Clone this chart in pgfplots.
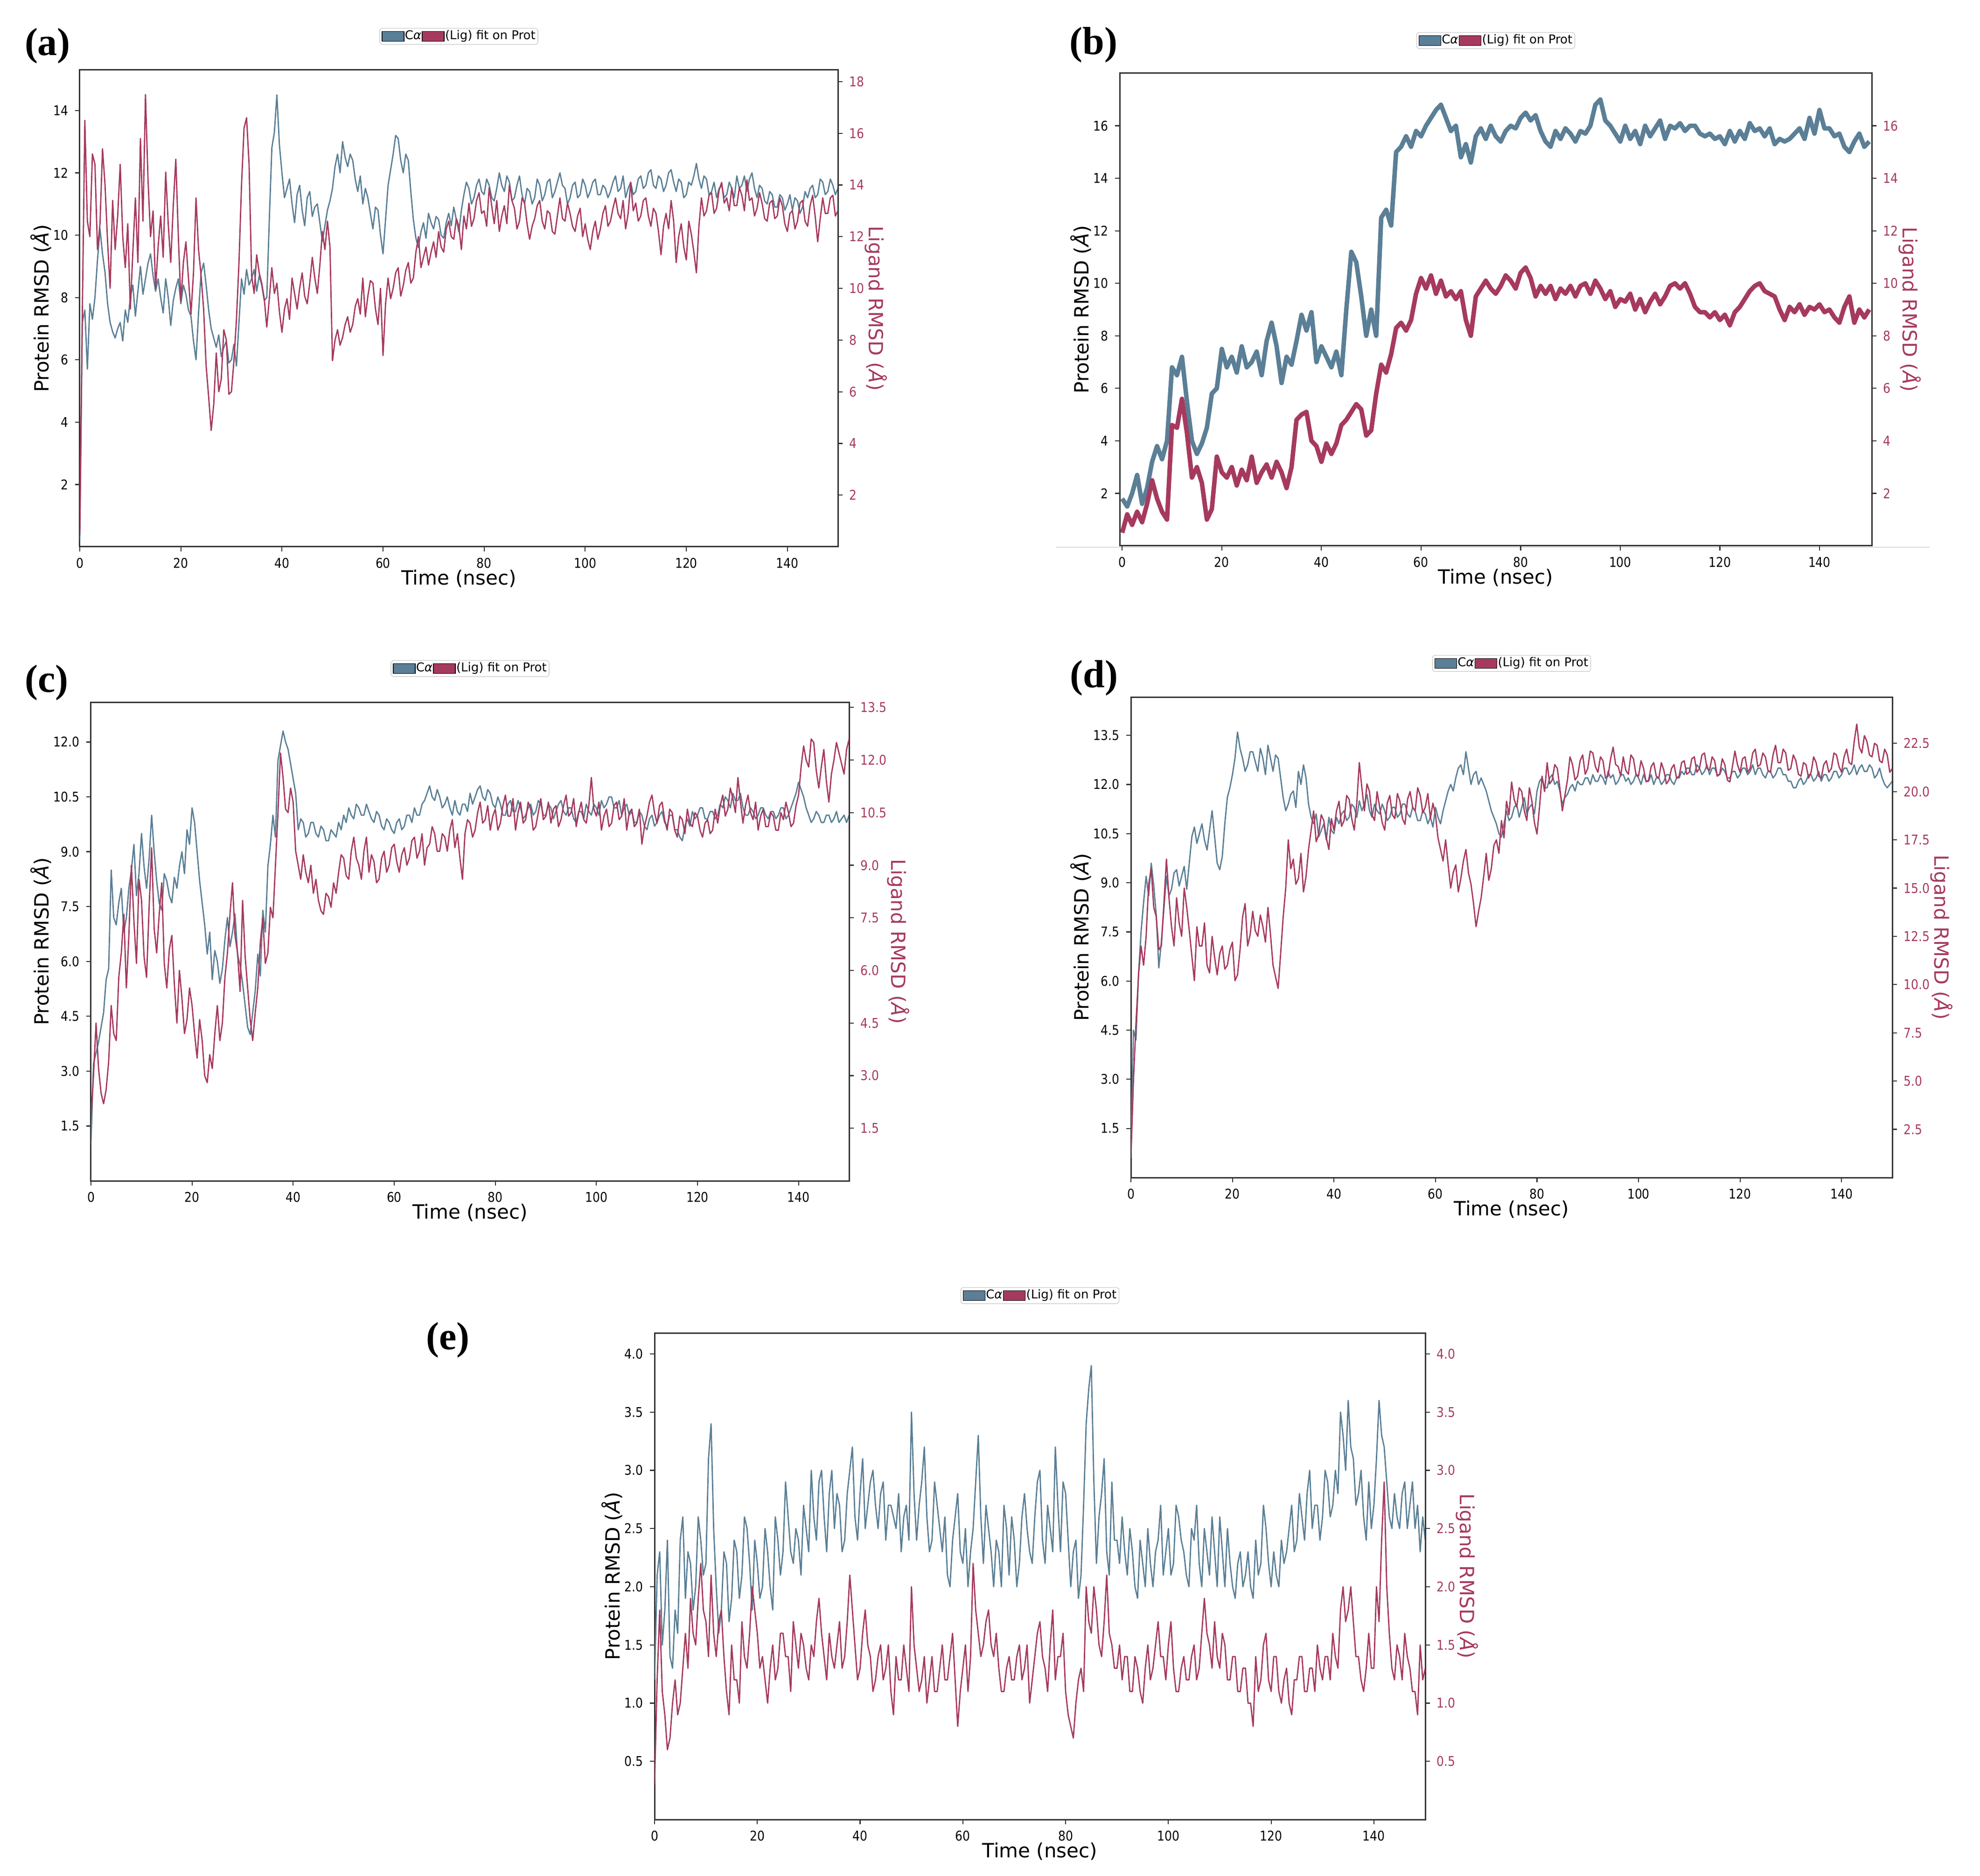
\documentclass[border=0pt]{standalone}
\usepackage{pgfplots}
\usepackage{pgfplotstable}
\pgfplotsset{compat=1.18}
\usepackage{fontspec}
\setmainfont{DejaVu Sans}
\newfontfamily\tickfont{DejaVu Sans}[FakeStretch=0.87]
\newfontfamily\tnr{Liberation Serif}
\definecolor{protc}{HTML}{5A7F96}
\definecolor{ligc}{HTML}{A63A5E}
\definecolor{axc}{HTML}{333333}

% ---------------- data: panels a, c, d, e every 0.5 ns; panel b every 1 ns ----------------
\pgfplotstableread[row sep=\\]{v\\
0.2\\ 7.2\\ 7.6\\ 5.7\\ 7.8\\ 7.3\\ 8.0\\ 9.2\\ 10.2\\ 9.4\\
8.8\\ 7.8\\ 7.2\\ 6.9\\ 6.7\\ 7.0\\ 7.2\\ 6.6\\ 7.6\\ 7.2\\
8.0\\ 8.4\\ 7.4\\ 8.2\\ 9.0\\ 8.1\\ 8.6\\ 9.1\\ 9.4\\ 8.7\\
8.2\\ 8.6\\ 8.0\\ 7.5\\ 8.6\\ 8.0\\ 7.1\\ 7.9\\ 8.3\\ 8.6\\
7.8\\ 8.4\\ 8.1\\ 7.6\\ 7.4\\ 6.6\\ 6.0\\ 7.5\\ 8.8\\ 9.1\\
8.4\\ 7.6\\ 7.0\\ 6.7\\ 6.4\\ 6.8\\ 6.1\\ 6.4\\ 6.6\\ 5.9\\
6.0\\ 6.5\\ 5.8\\ 7.2\\ 8.6\\ 8.1\\ 8.9\\ 8.4\\ 8.6\\ 8.9\\
8.2\\ 8.7\\ 8.4\\ 7.9\\ 8.0\\ 10.5\\ 12.8\\ 13.3\\ 14.5\\ 12.9\\
12.0\\ 11.2\\ 11.5\\ 11.8\\ 11.0\\ 10.4\\ 11.3\\ 11.6\\ 10.8\\ 10.3\\
11.2\\ 11.4\\ 10.6\\ 10.9\\ 11.0\\ 10.4\\ 9.8\\ 10.3\\ 10.8\\ 11.1\\
11.5\\ 12.2\\ 12.6\\ 12.0\\ 13.0\\ 12.5\\ 12.2\\ 12.6\\ 12.4\\ 11.8\\
11.4\\ 11.9\\ 11.0\\ 11.5\\ 11.2\\ 10.7\\ 10.2\\ 10.9\\ 10.8\\ 10.0\\
9.4\\ 10.5\\ 11.6\\ 12.1\\ 12.6\\ 13.2\\ 13.1\\ 12.4\\ 12.0\\ 12.6\\
12.4\\ 11.4\\ 10.5\\ 9.9\\ 9.6\\ 10.1\\ 10.4\\ 9.9\\ 10.7\\ 10.4\\
10.2\\ 10.6\\ 10.5\\ 10.0\\ 9.9\\ 10.4\\ 10.7\\ 10.3\\ 10.9\\ 10.5\\
10.1\\ 10.8\\ 11.3\\ 11.7\\ 11.5\\ 11.0\\ 11.2\\ 11.6\\ 11.8\\ 11.4\\
11.3\\ 11.8\\ 11.6\\ 11.2\\ 11.1\\ 11.5\\ 12.0\\ 11.6\\ 11.4\\ 11.9\\
11.7\\ 11.1\\ 11.2\\ 11.6\\ 11.9\\ 11.3\\ 11.0\\ 11.5\\ 11.4\\ 11.0\\
11.2\\ 11.8\\ 11.6\\ 11.1\\ 11.3\\ 11.7\\ 11.8\\ 11.2\\ 11.4\\ 11.7\\
12.0\\ 11.6\\ 11.5\\ 11.0\\ 11.2\\ 11.6\\ 11.7\\ 11.2\\ 11.3\\ 11.8\\
11.6\\ 11.2\\ 11.4\\ 11.7\\ 11.8\\ 11.3\\ 11.3\\ 11.6\\ 11.5\\ 11.2\\
11.4\\ 11.7\\ 11.9\\ 11.4\\ 11.5\\ 11.9\\ 11.2\\ 11.5\\ 11.7\\ 11.3\\
11.4\\ 11.8\\ 11.9\\ 11.5\\ 11.6\\ 12.0\\ 12.1\\ 11.6\\ 11.5\\ 11.9\\
11.8\\ 11.4\\ 11.6\\ 12.0\\ 12.1\\ 11.7\\ 11.4\\ 11.8\\ 11.7\\ 11.2\\
11.3\\ 11.7\\ 11.6\\ 11.9\\ 12.3\\ 11.8\\ 11.5\\ 11.9\\ 11.8\\ 11.3\\
11.4\\ 11.7\\ 11.2\\ 11.5\\ 11.6\\ 11.2\\ 11.3\\ 11.7\\ 11.5\\ 11.2\\
11.9\\ 11.5\\ 11.6\\ 11.9\\ 11.4\\ 11.8\\ 12.0\\ 11.5\\ 11.2\\ 11.6\\
11.5\\ 11.1\\ 11.0\\ 11.4\\ 11.3\\ 10.9\\ 10.9\\ 11.3\\ 11.2\\ 10.8\\
11.0\\ 11.3\\ 10.8\\ 11.2\\ 11.1\\ 10.7\\ 10.9\\ 11.4\\ 11.2\\ 11.5\\
11.6\\ 11.2\\ 11.3\\ 11.8\\ 11.7\\ 11.3\\ 11.4\\ 11.8\\ 11.6\\ 11.3\\
11.5\\}\aP
\pgfplotstableread[row sep=\\]{v\\
0.5\\ 9.0\\ 16.5\\ 12.6\\ 12.0\\ 15.2\\ 14.8\\ 11.5\\ 12.5\\ 15.4\\
14.0\\ 11.8\\ 10.0\\ 13.4\\ 11.5\\ 12.8\\ 14.8\\ 12.0\\ 10.8\\ 12.5\\
9.2\\ 11.4\\ 13.5\\ 11.0\\ 15.8\\ 12.6\\ 17.5\\ 14.2\\ 12.0\\ 13.0\\
10.0\\ 11.6\\ 12.8\\ 11.2\\ 14.5\\ 12.5\\ 11.0\\ 13.2\\ 15.0\\ 12.0\\
9.5\\ 11.0\\ 11.8\\ 10.4\\ 9.0\\ 10.6\\ 13.5\\ 11.5\\ 10.5\\ 9.2\\
7.0\\ 5.8\\ 4.5\\ 5.5\\ 7.5\\ 6.0\\ 6.5\\ 8.4\\ 8.0\\ 5.9\\
6.0\\ 7.2\\ 8.8\\ 11.0\\ 14.0\\ 16.2\\ 16.6\\ 14.8\\ 10.5\\ 9.8\\
11.3\\ 10.6\\ 10.2\\ 9.6\\ 8.5\\ 9.6\\ 10.8\\ 9.8\\ 10.2\\ 9.1\\
8.3\\ 9.2\\ 9.6\\ 8.8\\ 10.4\\ 9.8\\ 9.2\\ 10.0\\ 10.6\\ 9.7\\
9.4\\ 10.2\\ 11.2\\ 10.4\\ 9.8\\ 10.9\\ 12.2\\ 11.5\\ 12.6\\ 11.6\\
7.2\\ 8.0\\ 8.4\\ 7.8\\ 8.1\\ 8.6\\ 8.9\\ 8.3\\ 8.6\\ 9.3\\
9.6\\ 9.0\\ 10.4\\ 8.9\\ 9.7\\ 10.3\\ 10.2\\ 9.2\\ 8.6\\ 10.0\\
7.4\\ 9.4\\ 10.4\\ 9.6\\ 10.0\\ 10.6\\ 10.8\\ 9.7\\ 10.1\\ 10.7\\
11.0\\ 10.2\\ 10.4\\ 11.4\\ 12.0\\ 10.8\\ 11.2\\ 11.6\\ 10.9\\ 11.4\\
11.8\\ 11.2\\ 12.2\\ 11.6\\ 11.4\\ 12.3\\ 12.6\\ 12.0\\ 11.9\\ 12.7\\
12.4\\ 11.5\\ 12.8\\ 12.3\\ 13.3\\ 12.4\\ 12.7\\ 13.4\\ 13.7\\ 12.9\\
13.0\\ 12.4\\ 13.9\\ 13.2\\ 12.5\\ 13.4\\ 12.2\\ 12.8\\ 13.2\\ 12.5\\
14.0\\ 13.4\\ 13.1\\ 12.3\\ 12.6\\ 13.5\\ 13.3\\ 12.5\\ 11.9\\ 12.4\\
12.7\\ 13.2\\ 13.4\\ 12.6\\ 12.3\\ 13.0\\ 12.9\\ 12.2\\ 12.1\\ 12.8\\
13.5\\ 12.7\\ 12.6\\ 13.3\\ 12.9\\ 12.4\\ 12.2\\ 12.8\\ 13.1\\ 12.0\\
12.5\\ 11.9\\ 11.5\\ 12.2\\ 12.6\\ 11.9\\ 12.3\\ 12.9\\ 13.2\\ 12.4\\
12.6\\ 13.1\\ 13.5\\ 12.9\\ 12.7\\ 13.4\\ 12.3\\ 12.9\\ 14.1\\ 13.0\\
13.3\\ 12.6\\ 12.8\\ 13.4\\ 13.5\\ 12.8\\ 12.4\\ 13.1\\ 12.9\\ 12.2\\
11.3\\ 12.4\\ 12.9\\ 12.3\\ 13.4\\ 12.6\\ 11.0\\ 12.0\\ 12.5\\ 11.6\\
11.1\\ 12.6\\ 12.1\\ 11.4\\ 10.6\\ 12.4\\ 13.5\\ 12.8\\ 13.0\\ 13.6\\
13.7\\ 12.9\\ 13.1\\ 13.8\\ 14.1\\ 13.3\\ 13.5\\ 13.0\\ 13.9\\ 13.2\\
13.2\\ 13.9\\ 13.6\\ 13.0\\ 14.2\\ 13.4\\ 13.5\\ 12.8\\ 13.1\\ 13.7\\
13.3\\ 12.7\\ 12.6\\ 13.3\\ 13.4\\ 12.7\\ 12.8\\ 13.5\\ 13.2\\ 12.5\\
12.2\\ 12.9\\ 13.0\\ 12.3\\ 12.6\\ 13.3\\ 13.4\\ 12.6\\ 12.4\\ 13.2\\
13.6\\ 12.8\\ 11.8\\ 12.7\\ 13.5\\ 12.9\\ 12.9\\ 13.5\\ 13.6\\ 12.8\\
13.0\\}\aL
\pgfplotstableread[row sep=\\]{v\\
1.8\\ 1.5\\ 2.0\\ 2.7\\ 1.6\\ 2.2\\ 3.2\\ 3.8\\ 3.3\\ 4.0\\
6.8\\ 6.5\\ 7.2\\ 5.5\\ 4.0\\ 3.5\\ 3.9\\ 4.5\\ 5.8\\ 6.0\\
7.5\\ 6.8\\ 7.2\\ 6.6\\ 7.6\\ 6.8\\ 7.0\\ 7.4\\ 6.5\\ 7.8\\
8.5\\ 7.6\\ 6.2\\ 7.2\\ 6.9\\ 7.8\\ 8.8\\ 8.2\\ 8.9\\ 7.0\\
7.6\\ 7.2\\ 6.8\\ 7.4\\ 6.5\\ 9.0\\ 11.2\\ 10.8\\ 9.5\\ 8.0\\
9.0\\ 8.0\\ 12.5\\ 12.8\\ 12.2\\ 15.0\\ 15.2\\ 15.6\\ 15.2\\ 15.8\\
15.6\\ 16.0\\ 16.3\\ 16.6\\ 16.8\\ 16.3\\ 15.8\\ 16.0\\ 14.8\\ 15.3\\
14.6\\ 15.6\\ 15.9\\ 15.5\\ 16.0\\ 15.6\\ 15.4\\ 15.8\\ 16.0\\ 15.9\\
16.3\\ 16.5\\ 16.2\\ 16.4\\ 15.8\\ 15.4\\ 15.2\\ 15.8\\ 15.5\\ 15.9\\
15.7\\ 15.4\\ 15.8\\ 15.7\\ 16.0\\ 16.8\\ 17.0\\ 16.2\\ 16.0\\ 15.7\\
15.4\\ 16.0\\ 15.5\\ 15.8\\ 15.3\\ 16.0\\ 15.6\\ 15.9\\ 16.2\\ 15.5\\
16.0\\ 15.9\\ 16.1\\ 15.8\\ 16.0\\ 16.0\\ 15.7\\ 15.6\\ 15.7\\ 15.5\\
15.6\\ 15.3\\ 15.8\\ 15.4\\ 15.8\\ 15.5\\ 16.1\\ 15.8\\ 15.9\\ 15.6\\
15.9\\ 15.3\\ 15.5\\ 15.4\\ 15.5\\ 15.7\\ 15.9\\ 15.5\\ 16.3\\ 15.7\\
16.6\\ 15.9\\ 15.9\\ 15.6\\ 15.7\\ 15.2\\ 15.0\\ 15.4\\ 15.7\\ 15.2\\
15.4\\}\bP
\pgfplotstableread[row sep=\\]{v\\
0.5\\ 1.2\\ 0.8\\ 1.3\\ 0.9\\ 1.6\\ 2.5\\ 1.8\\ 1.3\\ 1.0\\
4.6\\ 4.5\\ 5.6\\ 4.3\\ 2.6\\ 3.0\\ 2.4\\ 1.0\\ 1.4\\ 3.4\\
2.8\\ 2.6\\ 3.0\\ 2.3\\ 2.9\\ 2.5\\ 3.4\\ 2.4\\ 2.8\\ 3.1\\
2.6\\ 3.2\\ 2.8\\ 2.2\\ 3.0\\ 4.8\\ 5.0\\ 5.1\\ 4.0\\ 3.8\\
3.2\\ 3.9\\ 3.5\\ 3.9\\ 4.6\\ 4.8\\ 5.1\\ 5.4\\ 5.2\\ 4.2\\
4.4\\ 5.8\\ 6.9\\ 6.6\\ 7.3\\ 8.3\\ 8.5\\ 8.2\\ 8.6\\ 9.6\\
10.2\\ 9.8\\ 10.3\\ 9.6\\ 10.1\\ 9.5\\ 9.7\\ 9.4\\ 9.7\\ 8.6\\
8.0\\ 9.5\\ 9.8\\ 10.1\\ 9.8\\ 9.6\\ 9.9\\ 10.3\\ 10.1\\ 9.8\\
10.4\\ 10.6\\ 10.2\\ 9.5\\ 9.9\\ 9.6\\ 9.9\\ 9.4\\ 9.8\\ 9.6\\
9.9\\ 9.5\\ 9.9\\ 10.0\\ 9.6\\ 10.1\\ 9.8\\ 9.4\\ 9.7\\ 9.1\\
9.4\\ 9.3\\ 9.6\\ 9.0\\ 9.4\\ 8.9\\ 9.3\\ 9.6\\ 9.2\\ 9.5\\
9.9\\ 10.0\\ 9.8\\ 10.0\\ 9.6\\ 9.1\\ 8.9\\ 8.9\\ 8.7\\ 8.9\\
8.6\\ 8.8\\ 8.4\\ 8.9\\ 9.1\\ 9.4\\ 9.7\\ 9.9\\ 10.0\\ 9.7\\
9.6\\ 9.5\\ 9.0\\ 8.6\\ 9.1\\ 8.9\\ 9.2\\ 8.8\\ 9.1\\ 9.0\\
9.2\\ 8.9\\ 9.0\\ 8.7\\ 8.5\\ 9.1\\ 9.5\\ 8.5\\ 9.0\\ 8.7\\
9.0\\}\bL
\pgfplotstableread[row sep=\\]{v\\
1.0\\ 3.2\\ 3.5\\ 3.8\\ 4.2\\ 4.6\\ 5.5\\ 5.8\\ 8.5\\ 7.2\\
7.0\\ 7.6\\ 8.0\\ 6.8\\ 7.2\\ 8.0\\ 8.5\\ 9.2\\ 7.8\\ 8.4\\
9.5\\ 8.6\\ 8.0\\ 8.8\\ 10.0\\ 9.0\\ 8.2\\ 7.6\\ 7.4\\ 8.4\\
8.2\\ 7.8\\ 7.6\\ 8.3\\ 8.0\\ 8.6\\ 9.0\\ 8.4\\ 9.6\\ 9.2\\
10.2\\ 9.8\\ 9.0\\ 8.2\\ 7.6\\ 7.0\\ 6.2\\ 6.8\\ 5.5\\ 6.3\\
6.0\\ 5.4\\ 5.8\\ 6.6\\ 7.2\\ 6.4\\ 6.8\\ 7.3\\ 6.2\\ 5.9\\
5.4\\ 4.8\\ 4.2\\ 4.0\\ 4.6\\ 5.2\\ 6.2\\ 5.6\\ 7.4\\ 6.8\\
8.6\\ 9.2\\ 10.0\\ 9.4\\ 11.5\\ 11.9\\ 12.3\\ 12.0\\ 11.8\\ 11.4\\
11.0\\ 10.6\\ 9.6\\ 9.9\\ 9.8\\ 9.4\\ 9.5\\ 9.8\\ 9.8\\ 9.5\\
9.4\\ 9.7\\ 9.6\\ 9.3\\ 9.3\\ 9.6\\ 9.5\\ 9.4\\ 9.8\\ 9.6\\
10.0\\ 9.8\\ 10.2\\ 10.0\\ 9.9\\ 10.3\\ 10.2\\ 10.0\\ 10.0\\ 10.3\\
10.1\\ 9.9\\ 9.8\\ 10.1\\ 10.0\\ 9.7\\ 9.6\\ 9.9\\ 9.8\\ 9.6\\
9.5\\ 9.8\\ 9.9\\ 9.6\\ 9.7\\ 10.0\\ 10.0\\ 9.8\\ 10.2\\ 10.0\\
10.0\\ 10.3\\ 10.4\\ 10.6\\ 10.8\\ 10.5\\ 10.4\\ 10.7\\ 10.5\\ 10.2\\
10.3\\ 10.5\\ 10.2\\ 10.0\\ 10.4\\ 10.1\\ 10.0\\ 10.3\\ 10.3\\ 10.1\\
10.6\\ 10.3\\ 10.5\\ 10.7\\ 10.8\\ 10.5\\ 10.4\\ 10.7\\ 10.6\\ 10.3\\
10.2\\ 10.5\\ 10.3\\ 10.0\\ 10.0\\ 10.3\\ 10.4\\ 10.1\\ 10.1\\ 10.4\\
10.2\\ 9.9\\ 10.0\\ 10.2\\ 10.3\\ 10.0\\ 10.1\\ 10.4\\ 10.3\\ 10.0\\
10.0\\ 10.3\\ 10.2\\ 9.9\\ 10.1\\ 10.3\\ 10.4\\ 10.1\\ 10.0\\ 10.2\\
10.2\\ 9.9\\ 9.8\\ 10.1\\ 10.1\\ 9.9\\ 10.3\\ 10.1\\ 10.0\\ 10.3\\
10.2\\ 10.0\\ 10.4\\ 10.2\\ 10.3\\ 10.5\\ 10.5\\ 10.2\\ 10.2\\ 10.4\\
10.0\\ 10.2\\ 10.3\\ 10.0\\ 10.1\\ 9.8\\ 9.8\\ 10.1\\ 10.0\\ 9.7\\
9.6\\ 9.9\\ 10.0\\ 9.7\\ 9.8\\ 10.0\\ 10.1\\ 9.8\\ 9.7\\ 10.0\\
10.0\\ 9.6\\ 9.6\\ 9.4\\ 9.3\\ 9.7\\ 9.9\\ 9.7\\ 10.1\\ 9.9\\
10.0\\ 10.2\\ 10.2\\ 9.9\\ 9.9\\ 10.1\\ 10.1\\ 9.9\\ 10.0\\ 10.3\\
10.2\\ 10.5\\ 10.4\\ 10.2\\ 10.6\\ 10.4\\ 10.4\\ 10.6\\ 10.2\\ 10.0\\
10.0\\ 10.2\\ 10.1\\ 9.9\\ 10.0\\ 10.2\\ 10.2\\ 10.0\\ 9.9\\ 10.1\\
10.1\\ 9.9\\ 10.0\\ 10.2\\ 10.2\\ 9.9\\ 10.0\\ 10.2\\ 10.4\\ 10.6\\
10.9\\ 10.7\\ 10.5\\ 10.2\\ 10.0\\ 9.8\\ 9.9\\ 10.1\\ 10.0\\ 9.8\\
9.8\\ 10.0\\ 10.0\\ 9.8\\ 9.9\\ 10.1\\ 9.8\\ 9.9\\ 10.0\\ 9.8\\
10.0\\}\cP
\pgfplotstableread[row sep=\\]{v\\
1.8\\ 3.0\\ 4.5\\ 3.2\\ 2.5\\ 2.2\\ 2.6\\ 3.4\\ 5.0\\ 4.2\\
4.0\\ 5.8\\ 6.5\\ 7.6\\ 5.5\\ 7.0\\ 9.0\\ 7.4\\ 6.2\\ 8.6\\
8.0\\ 6.4\\ 5.8\\ 7.8\\ 9.5\\ 7.2\\ 6.5\\ 7.6\\ 8.5\\ 6.2\\
5.5\\ 6.6\\ 7.0\\ 5.6\\ 4.5\\ 6.0\\ 5.2\\ 4.2\\ 4.6\\ 5.5\\
5.0\\ 4.2\\ 3.5\\ 4.6\\ 4.0\\ 3.0\\ 2.8\\ 3.6\\ 3.2\\ 4.2\\
5.0\\ 4.0\\ 4.5\\ 5.8\\ 6.5\\ 7.6\\ 8.5\\ 7.0\\ 6.5\\ 5.4\\
8.0\\ 6.4\\ 5.5\\ 4.6\\ 4.0\\ 4.8\\ 5.5\\ 6.8\\ 7.5\\ 6.2\\
6.5\\ 7.8\\ 7.5\\ 9.0\\ 10.5\\ 12.2\\ 11.5\\ 10.6\\ 10.5\\ 11.2\\
10.8\\ 9.4\\ 9.0\\ 8.6\\ 9.3\\ 8.8\\ 8.5\\ 9.0\\ 8.2\\ 8.6\\
8.0\\ 7.7\\ 7.6\\ 8.2\\ 8.1\\ 7.8\\ 8.5\\ 8.2\\ 8.8\\ 9.3\\
9.2\\ 8.7\\ 8.6\\ 9.4\\ 9.8\\ 9.2\\ 9.0\\ 8.6\\ 9.4\\ 9.8\\
8.8\\ 9.3\\ 9.1\\ 8.5\\ 8.6\\ 9.2\\ 9.4\\ 8.8\\ 9.0\\ 9.5\\
9.6\\ 9.1\\ 8.8\\ 9.3\\ 9.5\\ 9.0\\ 9.2\\ 9.7\\ 9.8\\ 9.2\\
9.4\\ 9.9\\ 9.0\\ 9.5\\ 9.6\\ 10.1\\ 9.9\\ 9.4\\ 9.4\\ 9.9\\
9.8\\ 9.4\\ 10.0\\ 10.3\\ 9.5\\ 9.9\\ 9.2\\ 8.6\\ 9.9\\ 10.3\\
10.2\\ 9.8\\ 10.0\\ 10.5\\ 10.8\\ 10.2\\ 10.3\\ 10.7\\ 10.0\\ 10.4\\
10.6\\ 10.0\\ 10.2\\ 10.7\\ 11.0\\ 10.4\\ 10.4\\ 10.9\\ 10.0\\ 10.5\\
10.8\\ 10.2\\ 10.3\\ 10.8\\ 10.6\\ 10.0\\ 10.1\\ 10.5\\ 10.9\\ 10.3\\
10.4\\ 10.8\\ 10.2\\ 10.6\\ 10.7\\ 10.1\\ 10.3\\ 10.7\\ 11.0\\ 10.4\\
10.5\\ 10.9\\ 10.1\\ 10.5\\ 10.8\\ 10.3\\ 10.2\\ 10.7\\ 11.5\\ 10.6\\
10.4\\ 10.8\\ 10.0\\ 10.4\\ 10.6\\ 10.1\\ 10.2\\ 10.7\\ 10.8\\ 10.3\\
10.4\\ 10.9\\ 10.0\\ 10.5\\ 10.6\\ 10.1\\ 10.2\\ 10.6\\ 9.6\\ 10.1\\
10.4\\ 10.8\\ 11.0\\ 10.5\\ 10.2\\ 10.7\\ 10.8\\ 10.3\\ 10.0\\ 10.6\\
10.5\\ 10.0\\ 9.8\\ 10.4\\ 10.3\\ 9.9\\ 10.6\\ 10.2\\ 10.1\\ 10.5\\
10.4\\ 10.0\\ 9.8\\ 10.2\\ 10.3\\ 9.9\\ 10.0\\ 10.6\\ 10.2\\ 10.7\\
11.0\\ 10.4\\ 10.6\\ 11.2\\ 10.9\\ 10.5\\ 11.5\\ 10.8\\ 10.2\\ 10.7\\
11.0\\ 10.5\\ 10.3\\ 10.8\\ 10.0\\ 10.4\\ 10.6\\ 10.1\\ 10.1\\ 10.5\\
10.4\\ 10.0\\ 10.0\\ 10.5\\ 10.3\\ 10.8\\ 10.5\\ 10.1\\ 10.2\\ 10.7\\
11.0\\ 11.8\\ 12.4\\ 12.0\\ 11.8\\ 12.6\\ 12.5\\ 11.7\\ 11.2\\ 11.8\\
12.3\\ 11.4\\ 10.8\\ 11.6\\ 12.0\\ 12.5\\ 12.2\\ 11.9\\ 11.6\\ 12.3\\
12.6\\}\cL
\pgfplotstableread[row sep=\\]{v\\
0.8\\ 4.5\\ 4.2\\ 6.2\\ 7.5\\ 8.4\\ 9.2\\ 8.6\\ 9.6\\ 8.9\\
8.0\\ 6.4\\ 7.2\\ 8.2\\ 9.2\\ 8.6\\ 8.8\\ 9.3\\ 9.4\\ 8.9\\
9.2\\ 9.5\\ 8.8\\ 9.6\\ 10.4\\ 10.7\\ 10.2\\ 10.5\\ 10.8\\ 10.3\\
10.0\\ 10.6\\ 11.2\\ 10.4\\ 9.6\\ 9.4\\ 9.8\\ 10.8\\ 11.6\\ 11.9\\
12.3\\ 12.8\\ 13.6\\ 13.1\\ 12.8\\ 12.4\\ 12.6\\ 13.0\\ 13.0\\ 12.7\\
12.4\\ 13.1\\ 12.8\\ 12.3\\ 13.2\\ 12.8\\ 12.4\\ 12.9\\ 12.8\\ 12.2\\
11.6\\ 11.2\\ 11.4\\ 11.7\\ 11.8\\ 11.3\\ 12.4\\ 12.0\\ 12.6\\ 12.2\\
11.4\\ 11.0\\ 10.8\\ 11.1\\ 10.4\\ 10.6\\ 10.8\\ 10.3\\ 11.0\\ 10.6\\
10.5\\ 11.0\\ 10.8\\ 11.1\\ 11.2\\ 10.9\\ 11.0\\ 11.4\\ 11.3\\ 11.0\\
11.5\\ 11.2\\ 11.4\\ 11.7\\ 11.2\\ 11.0\\ 11.4\\ 11.2\\ 11.1\\ 11.4\\
11.2\\ 10.9\\ 11.0\\ 11.3\\ 11.3\\ 11.0\\ 11.1\\ 11.4\\ 11.4\\ 11.1\\
11.0\\ 11.3\\ 11.2\\ 10.9\\ 10.9\\ 11.2\\ 11.1\\ 10.8\\ 11.0\\ 10.7\\
11.3\\ 11.0\\ 10.8\\ 11.2\\ 11.5\\ 11.8\\ 12.0\\ 11.8\\ 12.2\\ 12.5\\
12.6\\ 12.3\\ 13.0\\ 12.5\\ 12.0\\ 12.3\\ 12.4\\ 12.0\\ 12.2\\ 12.0\\
11.8\\ 11.5\\ 11.2\\ 11.0\\ 10.8\\ 10.5\\ 10.4\\ 10.8\\ 11.2\\ 10.9\\
11.0\\ 11.3\\ 11.4\\ 11.0\\ 11.3\\ 11.6\\ 11.1\\ 11.3\\ 11.4\\ 11.1\\
11.8\\ 12.1\\ 12.2\\ 11.9\\ 11.9\\ 12.2\\ 12.3\\ 12.0\\ 12.1\\ 11.8\\
11.4\\ 11.6\\ 11.7\\ 11.9\\ 12.0\\ 11.8\\ 12.1\\ 12.0\\ 12.0\\ 12.2\\
12.2\\ 12.0\\ 12.3\\ 12.1\\ 12.1\\ 12.3\\ 12.2\\ 12.0\\ 12.4\\ 12.2\\
12.3\\ 12.0\\ 12.1\\ 12.3\\ 12.3\\ 12.1\\ 12.2\\ 12.0\\ 12.1\\ 12.3\\
12.2\\ 12.0\\ 12.3\\ 12.1\\ 12.1\\ 12.3\\ 12.0\\ 12.2\\ 12.2\\ 12.0\\
12.1\\ 12.3\\ 12.3\\ 12.1\\ 12.0\\ 12.2\\ 12.2\\ 12.4\\ 12.3\\ 12.5\\
12.5\\ 12.3\\ 12.3\\ 12.6\\ 12.5\\ 12.3\\ 12.4\\ 12.6\\ 12.3\\ 12.5\\
12.5\\ 12.3\\ 12.3\\ 12.5\\ 12.4\\ 12.2\\ 12.2\\ 12.4\\ 12.4\\ 12.2\\
12.3\\ 12.5\\ 12.5\\ 12.3\\ 12.4\\ 12.6\\ 12.3\\ 12.5\\ 12.5\\ 12.3\\
12.2\\ 12.4\\ 12.4\\ 12.2\\ 12.3\\ 12.5\\ 12.5\\ 12.3\\ 12.3\\ 12.1\\
12.1\\ 11.9\\ 11.9\\ 12.1\\ 12.2\\ 12.0\\ 12.1\\ 12.3\\ 12.3\\ 12.1\\
12.2\\ 12.4\\ 12.1\\ 12.3\\ 12.3\\ 12.1\\ 12.2\\ 12.4\\ 12.4\\ 12.2\\
12.3\\ 12.5\\ 12.5\\ 12.3\\ 12.4\\ 12.6\\ 12.3\\ 12.5\\ 12.6\\ 12.4\\
12.4\\ 12.6\\ 12.5\\ 12.2\\ 12.3\\ 12.5\\ 12.2\\ 12.0\\ 11.9\\ 12.0\\
12.1\\}\dP
\pgfplotstableread[row sep=\\]{v\\
1.0\\ 5.0\\ 8.0\\ 10.5\\ 12.0\\ 11.0\\ 12.5\\ 15.2\\ 16.0\\ 14.0\\
13.5\\ 11.8\\ 12.0\\ 14.2\\ 16.5\\ 14.5\\ 13.0\\ 12.0\\ 14.5\\ 13.2\\
12.5\\ 15.0\\ 14.0\\ 12.8\\ 11.5\\ 10.2\\ 13.0\\ 12.0\\ 12.0\\ 13.2\\
11.0\\ 10.6\\ 12.5\\ 11.4\\ 10.5\\ 11.6\\ 12.0\\ 10.8\\ 11.0\\ 11.8\\
12.2\\ 10.2\\ 10.5\\ 11.8\\ 13.5\\ 14.2\\ 12.0\\ 12.6\\ 13.8\\ 12.8\\
12.5\\ 13.6\\ 13.0\\ 12.2\\ 14.0\\ 12.6\\ 11.0\\ 10.4\\ 9.8\\ 11.6\\
13.5\\ 15.0\\ 17.5\\ 16.0\\ 16.5\\ 15.2\\ 15.5\\ 16.8\\ 14.8\\ 15.6\\
17.0\\ 18.0\\ 19.0\\ 17.4\\ 17.8\\ 18.8\\ 18.5\\ 17.6\\ 17.0\\ 18.6\\
18.0\\ 19.0\\ 19.5\\ 18.2\\ 18.5\\ 19.8\\ 19.6\\ 18.6\\ 18.0\\ 19.4\\
21.5\\ 20.2\\ 19.0\\ 20.4\\ 20.0\\ 18.8\\ 18.5\\ 20.0\\ 19.2\\ 18.4\\
18.0\\ 19.4\\ 19.8\\ 18.8\\ 18.6\\ 19.9\\ 19.5\\ 18.6\\ 18.3\\ 19.6\\
20.0\\ 19.2\\ 19.0\\ 20.2\\ 19.8\\ 18.9\\ 19.2\\ 19.9\\ 18.6\\ 19.4\\
18.8\\ 17.6\\ 17.0\\ 16.4\\ 17.5\\ 16.2\\ 15.0\\ 15.8\\ 16.2\\ 14.8\\
15.5\\ 16.4\\ 17.0\\ 15.8\\ 15.2\\ 14.2\\ 13.0\\ 13.8\\ 14.5\\ 15.6\\
16.8\\ 15.4\\ 16.0\\ 17.2\\ 17.5\\ 16.8\\ 18.5\\ 17.6\\ 19.5\\ 18.8\\
20.5\\ 19.6\\ 19.2\\ 20.2\\ 20.0\\ 19.0\\ 18.5\\ 20.2\\ 19.5\\ 18.4\\
17.8\\ 19.2\\ 20.8\\ 20.0\\ 21.5\\ 20.4\\ 20.6\\ 21.4\\ 21.2\\ 20.2\\
19.0\\ 19.8\\ 20.6\\ 21.8\\ 21.4\\ 20.6\\ 20.8\\ 21.6\\ 21.9\\ 20.9\\
21.2\\ 22.1\\ 22.0\\ 21.3\\ 21.0\\ 21.8\\ 21.6\\ 20.7\\ 20.8\\ 21.7\\
22.3\\ 21.4\\ 21.3\\ 20.8\\ 21.8\\ 21.1\\ 20.9\\ 21.9\\ 21.7\\ 20.9\\
20.8\\ 21.6\\ 21.2\\ 20.5\\ 20.6\\ 21.3\\ 21.5\\ 20.8\\ 20.7\\ 21.5\\
21.1\\ 20.4\\ 20.6\\ 21.2\\ 21.4\\ 20.7\\ 20.8\\ 21.5\\ 21.6\\ 20.9\\
21.0\\ 21.7\\ 21.8\\ 21.0\\ 21.2\\ 21.9\\ 22.0\\ 21.2\\ 21.1\\ 21.8\\
21.6\\ 20.8\\ 20.9\\ 21.7\\ 21.4\\ 20.6\\ 20.5\\ 21.3\\ 22.1\\ 21.4\\
21.0\\ 21.7\\ 21.8\\ 21.0\\ 21.2\\ 22.0\\ 22.2\\ 21.3\\ 21.4\\ 22.0\\
21.8\\ 21.1\\ 21.0\\ 21.9\\ 22.4\\ 21.5\\ 21.5\\ 22.2\\ 22.0\\ 21.1\\
21.2\\ 21.9\\ 21.6\\ 20.9\\ 20.8\\ 21.5\\ 21.4\\ 20.7\\ 21.0\\ 21.8\\
21.5\\ 20.8\\ 20.7\\ 21.4\\ 21.6\\ 21.0\\ 21.2\\ 22.0\\ 21.9\\ 21.3\\
21.0\\ 21.8\\ 22.2\\ 21.5\\ 21.4\\ 22.6\\ 23.5\\ 22.3\\ 22.0\\ 22.9\\
22.6\\ 21.9\\ 21.8\\ 22.5\\ 22.4\\ 21.6\\ 21.5\\ 22.2\\ 21.9\\ 21.0\\
21.2\\}\dL
\pgfplotstableread[row sep=\\]{v\\
1.2\\ 2.1\\ 2.3\\ 1.5\\ 1.8\\ 2.4\\ 1.4\\ 1.3\\ 1.8\\ 1.6\\
2.4\\ 2.6\\ 1.9\\ 2.3\\ 2.2\\ 1.8\\ 2.0\\ 2.6\\ 2.4\\ 2.1\\
2.2\\ 3.1\\ 3.4\\ 2.5\\ 2.0\\ 1.6\\ 1.8\\ 2.3\\ 2.2\\ 1.7\\
1.9\\ 2.4\\ 2.3\\ 1.9\\ 2.1\\ 2.6\\ 2.5\\ 2.2\\ 1.8\\ 2.4\\
2.2\\ 1.9\\ 2.0\\ 2.5\\ 2.3\\ 2.0\\ 1.8\\ 2.6\\ 2.4\\ 2.1\\
2.3\\ 2.9\\ 2.6\\ 2.3\\ 2.2\\ 2.5\\ 2.4\\ 2.1\\ 2.7\\ 2.5\\
2.3\\ 3.0\\ 2.6\\ 2.4\\ 2.9\\ 3.0\\ 2.6\\ 2.3\\ 2.8\\ 3.0\\
2.5\\ 2.8\\ 2.7\\ 2.3\\ 2.4\\ 2.8\\ 3.0\\ 3.2\\ 2.6\\ 2.4\\
2.8\\ 3.1\\ 2.5\\ 2.7\\ 2.9\\ 3.0\\ 2.7\\ 2.5\\ 2.8\\ 2.9\\
2.4\\ 2.7\\ 2.7\\ 2.6\\ 2.5\\ 2.8\\ 2.3\\ 2.6\\ 2.7\\ 2.4\\
3.5\\ 2.8\\ 2.4\\ 2.7\\ 2.9\\ 3.2\\ 2.6\\ 2.3\\ 2.4\\ 2.9\\
2.7\\ 2.5\\ 2.3\\ 2.6\\ 2.1\\ 2.0\\ 2.4\\ 2.6\\ 2.8\\ 2.3\\
2.2\\ 2.5\\ 2.0\\ 2.3\\ 2.5\\ 2.9\\ 3.3\\ 2.6\\ 2.2\\ 2.7\\
2.5\\ 2.3\\ 2.0\\ 2.4\\ 2.3\\ 2.0\\ 2.7\\ 2.5\\ 2.1\\ 2.6\\
2.4\\ 2.0\\ 2.2\\ 2.6\\ 2.8\\ 2.5\\ 2.3\\ 2.2\\ 2.6\\ 2.9\\
3.0\\ 2.4\\ 2.2\\ 2.7\\ 2.5\\ 2.3\\ 3.2\\ 2.7\\ 2.3\\ 2.9\\
2.8\\ 2.4\\ 2.0\\ 2.3\\ 2.4\\ 1.9\\ 2.1\\ 2.7\\ 3.4\\ 3.7\\
3.9\\ 2.9\\ 2.2\\ 2.6\\ 2.8\\ 3.1\\ 2.3\\ 2.1\\ 2.9\\ 2.4\\
2.4\\ 2.2\\ 2.6\\ 2.3\\ 2.1\\ 2.5\\ 2.3\\ 2.0\\ 1.9\\ 2.4\\
2.2\\ 2.0\\ 2.5\\ 2.2\\ 2.0\\ 2.3\\ 2.4\\ 2.7\\ 2.1\\ 2.3\\
2.5\\ 2.1\\ 2.2\\ 2.7\\ 2.6\\ 2.4\\ 2.3\\ 2.1\\ 2.0\\ 2.5\\
2.4\\ 2.7\\ 2.2\\ 2.0\\ 2.5\\ 2.3\\ 2.1\\ 2.6\\ 2.3\\ 2.0\\
2.6\\ 2.3\\ 2.0\\ 2.5\\ 2.2\\ 2.0\\ 1.9\\ 2.2\\ 2.3\\ 2.0\\
2.1\\ 2.3\\ 2.0\\ 1.9\\ 2.4\\ 2.1\\ 2.2\\ 2.7\\ 2.5\\ 2.2\\
2.0\\ 2.3\\ 2.1\\ 2.0\\ 2.4\\ 2.2\\ 2.3\\ 2.5\\ 2.7\\ 2.3\\
2.4\\ 2.8\\ 2.6\\ 2.4\\ 2.8\\ 3.0\\ 2.5\\ 2.7\\ 2.7\\ 2.4\\
2.6\\ 3.0\\ 2.9\\ 2.6\\ 2.7\\ 3.0\\ 2.8\\ 3.5\\ 3.3\\ 3.0\\
3.6\\ 3.2\\ 3.1\\ 2.7\\ 2.8\\ 3.0\\ 2.6\\ 2.4\\ 2.9\\ 2.5\\
2.7\\ 3.1\\ 3.6\\ 3.3\\ 3.2\\ 2.9\\ 2.6\\ 2.5\\ 2.8\\ 2.6\\
2.5\\ 2.8\\ 2.9\\ 2.5\\ 2.7\\ 2.9\\ 2.5\\ 2.7\\ 2.3\\ 2.6\\
2.4\\}\eP
\pgfplotstableread[row sep=\\]{v\\
0.3\\ 1.2\\ 1.8\\ 1.1\\ 0.9\\ 0.6\\ 0.7\\ 1.0\\ 1.2\\ 0.9\\
1.0\\ 1.3\\ 1.6\\ 1.3\\ 1.9\\ 1.6\\ 1.5\\ 1.9\\ 2.2\\ 1.8\\
1.7\\ 1.4\\ 2.1\\ 1.6\\ 1.4\\ 1.7\\ 1.8\\ 1.4\\ 1.1\\ 0.9\\
1.5\\ 1.2\\ 1.2\\ 1.0\\ 1.7\\ 1.4\\ 1.3\\ 1.6\\ 2.0\\ 1.8\\
1.6\\ 1.3\\ 1.4\\ 1.2\\ 1.0\\ 1.3\\ 1.5\\ 1.2\\ 1.3\\ 1.6\\
1.6\\ 1.4\\ 1.4\\ 1.1\\ 1.7\\ 1.5\\ 1.3\\ 1.6\\ 1.5\\ 1.3\\
1.2\\ 1.5\\ 1.4\\ 1.7\\ 1.9\\ 1.6\\ 1.4\\ 1.2\\ 1.6\\ 1.4\\
1.3\\ 1.5\\ 1.7\\ 1.3\\ 1.4\\ 1.7\\ 2.1\\ 1.8\\ 1.5\\ 1.2\\
1.3\\ 1.6\\ 1.8\\ 1.5\\ 1.4\\ 1.1\\ 1.2\\ 1.4\\ 1.5\\ 1.2\\
1.3\\ 1.5\\ 1.1\\ 0.9\\ 1.4\\ 1.2\\ 1.2\\ 1.5\\ 1.3\\ 1.1\\
2.0\\ 1.5\\ 1.3\\ 1.1\\ 1.2\\ 1.4\\ 1.0\\ 1.2\\ 1.4\\ 1.1\\
1.1\\ 1.3\\ 1.5\\ 1.2\\ 1.2\\ 1.4\\ 1.6\\ 1.2\\ 0.8\\ 1.1\\
1.3\\ 1.5\\ 1.1\\ 1.4\\ 2.2\\ 1.8\\ 1.6\\ 1.4\\ 1.5\\ 1.7\\
1.8\\ 1.5\\ 1.4\\ 1.6\\ 1.3\\ 1.1\\ 1.1\\ 1.3\\ 1.4\\ 1.2\\
1.2\\ 1.4\\ 1.5\\ 1.2\\ 1.3\\ 1.5\\ 1.0\\ 1.2\\ 1.4\\ 1.6\\
1.7\\ 1.4\\ 1.3\\ 1.1\\ 1.5\\ 1.8\\ 1.2\\ 1.4\\ 1.4\\ 1.6\\
1.1\\ 0.9\\ 0.8\\ 0.7\\ 1.0\\ 1.2\\ 1.3\\ 1.1\\ 2.0\\ 1.7\\
1.6\\ 2.0\\ 1.8\\ 1.5\\ 1.4\\ 1.7\\ 2.1\\ 1.6\\ 1.5\\ 1.3\\
1.3\\ 1.5\\ 1.2\\ 1.4\\ 1.4\\ 1.1\\ 1.1\\ 1.4\\ 1.3\\ 1.1\\
1.0\\ 1.3\\ 1.5\\ 1.2\\ 1.3\\ 1.5\\ 1.7\\ 1.4\\ 1.4\\ 1.2\\
1.5\\ 1.7\\ 1.3\\ 1.1\\ 1.1\\ 1.3\\ 1.4\\ 1.2\\ 1.2\\ 1.4\\
1.5\\ 1.2\\ 1.3\\ 1.6\\ 1.9\\ 1.6\\ 1.5\\ 1.3\\ 1.7\\ 1.4\\
1.3\\ 1.6\\ 1.5\\ 1.2\\ 1.2\\ 1.4\\ 1.4\\ 1.1\\ 1.1\\ 1.3\\
1.3\\ 1.0\\ 1.0\\ 0.8\\ 1.4\\ 1.1\\ 1.2\\ 1.5\\ 1.6\\ 1.2\\
1.1\\ 1.4\\ 1.4\\ 1.1\\ 1.0\\ 1.2\\ 1.3\\ 1.0\\ 0.9\\ 1.2\\
1.2\\ 1.4\\ 1.4\\ 1.1\\ 1.1\\ 1.3\\ 1.3\\ 1.1\\ 1.5\\ 1.3\\
1.2\\ 1.4\\ 1.4\\ 1.2\\ 1.6\\ 1.4\\ 1.3\\ 1.8\\ 2.0\\ 1.7\\
1.8\\ 2.0\\ 1.7\\ 1.4\\ 1.4\\ 1.2\\ 1.1\\ 1.3\\ 1.6\\ 1.3\\
1.3\\ 2.0\\ 1.7\\ 2.4\\ 2.9\\ 2.0\\ 1.6\\ 1.3\\ 1.2\\ 1.5\\
1.4\\ 1.2\\ 1.6\\ 1.4\\ 1.3\\ 1.1\\ 1.1\\ 0.9\\ 1.5\\ 1.2\\
1.3\\}\eL

\pgfplotsset{
  base/.style={scale only axis, anchor=south west, xmin=0, xmax=150,
    tick align=outside, major tick length=2.6pt,
    tick style={draw=axc, line width=0.55pt},
    axis line style={draw=axc, line width=0.75pt},
    tick label style={font=\tickfont\fontsize{7.2}{8}\selectfont},
    label style={font=\fontsize{10.5}{12}\selectfont},
    /pgf/number format/assume math mode=true},
  leftax/.style={base, ymin=0, xtick={0,20,40,60,80,100,120,140},
    xtick pos=left, ytick pos=left,
    xlabel={Time (nsec)}, ylabel={Protein RMSD (\textit{Å})},
    xlabel style={yshift=6pt}, ylabel style={yshift=-5.8pt}},
  rightax/.style={base, ymin=0, axis y line*=right, axis x line=none,
    ytick pos=right, y tick label style={text=ligc},
    ylabel={Ligand RMSD (\textit{Å})}, ylabel style={rotate=180, text=ligc, yshift=-6.5pt},
    legend style={at={(0.5,1)}, anchor=south, yshift=13.5pt, legend columns=-1,
      draw=black!18, fill=white, rounded corners=1.5pt, inner xsep=1pt, inner ysep=0.8pt,
      font=\fontsize{6.5}{7}\selectfont, nodes={inner sep=0.3pt},
      /tikz/every even column/.append style={column sep=0pt}},
    legend image code/.code={\fill[##1, sharp corners] (0pt,-2.6pt) rectangle (11.75pt,2.6pt);}},
  oned/.style={y tick label style={/pgf/number format/.cd, fixed, fixed zerofill, precision=1, /tikz/.cd}},
  pline/.style={color=protc, line width=0.7pt, line join=round},
  lline/.style={color=ligc, line width=0.7pt, line join=round},
}
\newcommand{\leg}{%
  \addlegendimage{fill=protc}\addlegendentry{C\textit{α}}
  \addlegendimage{fill=ligc}\addlegendentry{(Lig) fit on Prot}}

\begin{document}
\begin{tikzpicture}
\path[use as bounding box] (0pt,0pt) rectangle (1061pt,-1005.25pt);

% ---------------- (a) ----------------
\begin{axis}[leftax, at={(42.75pt,-293pt)}, width=406.25pt, height=255.5pt,
  ymax=15.3, ytick={2,4,6,8,10,12,14}]
\addplot[pline] table[x expr=\coordindex*0.5, y=v] {\aP};
\end{axis}
\begin{axis}[rightax, at={(42.75pt,-293pt)}, width=406.25pt, height=255.5pt,
  ymax=18.45, ytick={2,4,6,8,10,12,14,16,18}]
\leg
\addplot[lline, forget plot] table[x expr=\coordindex*0.5, y=v] {\aL};
\end{axis}
\node[font=\tnr\bfseries\fontsize{21}{24}\selectfont] at (25.5pt,-24.5pt) {(a)};

% ---------------- (b) ----------------
\draw[black!15, line width=0.5pt] (566pt,-293.3pt) -- (1034pt,-293.3pt);
\begin{axis}[leftax, at={(600pt,-292.5pt)}, width=403pt, height=253.25pt,
  xmin=-0.5, xmax=150.5, ymax=18, ytick={2,4,6,8,10,12,14,16}]
\addplot[color=protc, line width=2.4pt, line join=round] table[x expr=\coordindex, y=v] {\bP};
\end{axis}
\begin{axis}[rightax, at={(600pt,-292.5pt)}, width=403pt, height=253.25pt,
  xmin=-0.5, xmax=150.5, ymax=18, ytick={2,4,6,8,10,12,14,16}, legend style={yshift=-0.5pt}]
\leg
\addplot[color=ligc, line width=2.4pt, line join=round, forget plot] table[x expr=\coordindex, y=v] {\bL};
\end{axis}
\node[font=\tnr\bfseries\fontsize{21}{24}\selectfont] at (586pt,-24pt) {(b)};

% ---------------- (c) ----------------
\begin{axis}[leftax, oned, at={(48.75pt,-632.75pt)}, width=406.25pt, height=256.5pt,
  ymax=13.09, ytick={1.5,3,4.5,6,7.5,9,10.5,12}]
\addplot[pline] table[x expr=\coordindex*0.5, y=v] {\cP};
\end{axis}
\begin{axis}[rightax, oned, at={(48.75pt,-632.75pt)}, width=406.25pt, height=256.5pt,
  ymax=13.65, ytick={1.5,3,4.5,6,7.5,9,10.5,12,13.5}]
\leg
\addplot[lline, forget plot] table[x expr=\coordindex*0.5, y=v] {\cL};
\end{axis}
\node[font=\tnr\bfseries\fontsize{21}{24}\selectfont] at (25pt,-365.75pt) {(c)};

% ---------------- (d) ----------------
\begin{axis}[leftax, oned, at={(606pt,-631pt)}, width=408pt, height=257.5pt,
  ymax=14.67, ytick={1.5,3,4.5,6,7.5,9,10.5,12,13.5}]
\addplot[pline] table[x expr=\coordindex*0.5, y=v] {\dP};
\end{axis}
\begin{axis}[rightax, oned, at={(606pt,-631pt)}, width=408pt, height=257.5pt,
  ymax=24.9, ytick={2.5,5,7.5,10,12.5,15,17.5,20,22.5}]
\leg
\addplot[lline, forget plot] table[x expr=\coordindex*0.5, y=v] {\dL};
\end{axis}
\node[font=\tnr\bfseries\fontsize{21}{24}\selectfont] at (586.25pt,-363.25pt) {(d)};

% ---------------- (e) ----------------
\begin{axis}[leftax, oned, at={(350.75pt,-975pt)}, width=413pt, height=260.75pt,
  ymax=4.18, ytick={0.5,1,1.5,2,2.5,3,3.5,4}]
\addplot[pline] table[x expr=\coordindex*0.5, y=v] {\eP};
\end{axis}
\begin{axis}[rightax, oned, at={(350.75pt,-975pt)}, width=413pt, height=260.75pt,
  ymax=4.18, ytick={0.5,1,1.5,2,2.5,3,3.5,4}, legend style={yshift=2pt}]
\leg
\addplot[lline, forget plot] table[x expr=\coordindex*0.5, y=v] {\eL};
\end{axis}
\node[font=\tnr\bfseries\fontsize{21}{24}\selectfont] at (240pt,-718pt) {(e)};
\end{tikzpicture}
\end{document}
